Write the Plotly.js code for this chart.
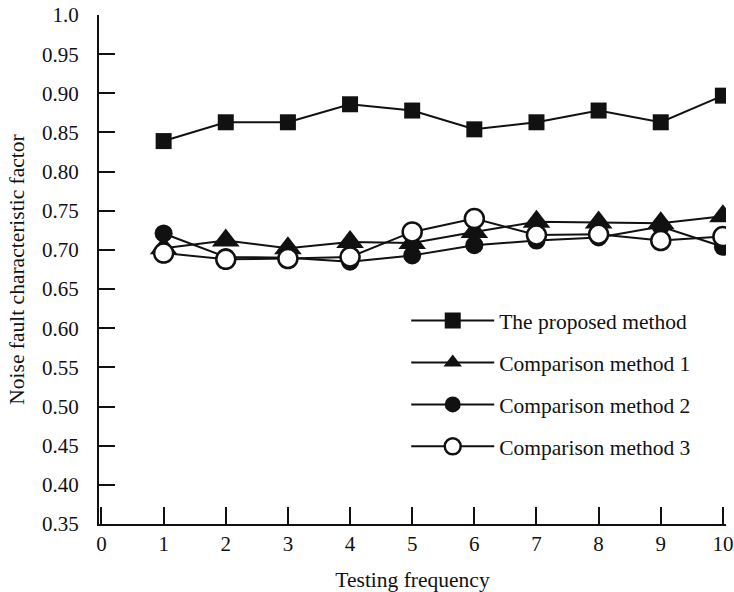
<!DOCTYPE html>
<html>
<head>
<meta charset="utf-8">
<script src="https://cdn.plot.ly/plotly-3.0.1.min.js"></script>
<style>html,body{margin:0;padding:0;background:#fff;}#chart{width:734px;height:592px;}</style>
</head>
<body>
<div id="chart"></div>
<script>
const testingFrequency = [1, 2, 3, 4, 5, 6, 7, 8, 9, 10];
const proposedMethod = [0.839, 0.863, 0.863, 0.886, 0.878, 0.854, 0.863, 0.878, 0.863, 0.897];
const comparisonMethod1 = [0.702, 0.712, 0.702, 0.710, 0.709, 0.723, 0.736, 0.735, 0.734, 0.743];
const comparisonMethod2 = [0.721, 0.691, 0.690, 0.685, 0.693, 0.706, 0.712, 0.716, 0.730, 0.704];
const comparisonMethod3 = [0.696, 0.688, 0.689, 0.691, 0.723, 0.740, 0.719, 0.720, 0.712, 0.717];
const seriesNames = ["The proposed method", "Comparison method 1", "Comparison method 2", "Comparison method 3"];
const yTickVals = [0.35, 0.40, 0.45, 0.50, 0.55, 0.60, 0.65, 0.70, 0.75, 0.80, 0.85, 0.90, 0.95, 1.0];
const yTickText = ["0.35", "0.40", "0.45", "0.50", "0.55", "0.60", "0.65", "0.70", "0.75", "0.80", "0.85", "0.90", "0.95", "1.0"];
const xTickVals = [0, 1, 2, 3, 4, 5, 6, 7, 8, 9, 10];

const ink = "#111111";
const font = "Liberation Serif, Times New Roman, serif";

function series(y, name, i, marker) {
  return {
    x: testingFrequency, y: y, name: name, type: "scatter", mode: "lines+markers",
    line: {color: ink, width: 2},
    marker: marker,
    legendgroup: "g" + i
  };
}

const data = [
  series(proposedMethod, seriesNames[0], 0, {symbol: "square", size: 16, color: ink}),
  series(comparisonMethod1, seriesNames[1], 1, {symbol: "triangle-up", size: 24, color: ink}),
  series(comparisonMethod2, seriesNames[2], 2, {symbol: "circle", size: 18, color: ink}),
  series(comparisonMethod3, seriesNames[3], 3, {symbol: "circle", size: 19, color: "#ffffff", line: {color: ink, width: 2.5}})
];

const layout = {
  width: 734, height: 592,
  margin: {l: 99, r: 8, t: 15, b: 68},
  paper_bgcolor: "#ffffff", plot_bgcolor: "#ffffff",
  font: {family: font, size: 21, color: ink},
  showlegend: true,
  legend: {
    x: 0.49, y: 0.44, xanchor: "left", yanchor: "top",
    font: {family: font, size: 21.5, color: ink},
    bgcolor: "rgba(0,0,0,0)", borderwidth: 0,
    traceorder: "grouped", tracegroupgap: 11, itemwidth: 83
  },
  xaxis: {
    range: [-0.04, 10.05],
    tickvals: xTickVals, ticktext: xTickVals.map(String),
    ticks: "inside", ticklen: 17, tickwidth: 2, tickcolor: ink,
    showline: true, linecolor: ink, linewidth: 2,
    showgrid: false, zeroline: false,
    tickfont: {family: font, size: 21, color: ink},
    ticklabelstandoff: 0,
    title: {text: "Testing frequency", font: {family: font, size: 21.5, color: ink}, standoff: 18}
  },
  yaxis: {
    range: [0.35, 1.0],
    tickvals: yTickVals, ticktext: yTickText,
    ticks: "inside", ticklen: 16, tickwidth: 2, tickcolor: ink,
    showline: true, linecolor: ink, linewidth: 2,
    showgrid: false, zeroline: false,
    tickfont: {family: font, size: 21, color: ink},
    ticklabelstandoff: 14,
    title: {text: "Noise fault characteristic factor", font: {family: font, size: 21.5, color: ink}, standoff: 12}
  }
};

Plotly.newPlot("chart", data, layout, {displayModeBar: false, staticPlot: true});
</script>
</body>
</html>
